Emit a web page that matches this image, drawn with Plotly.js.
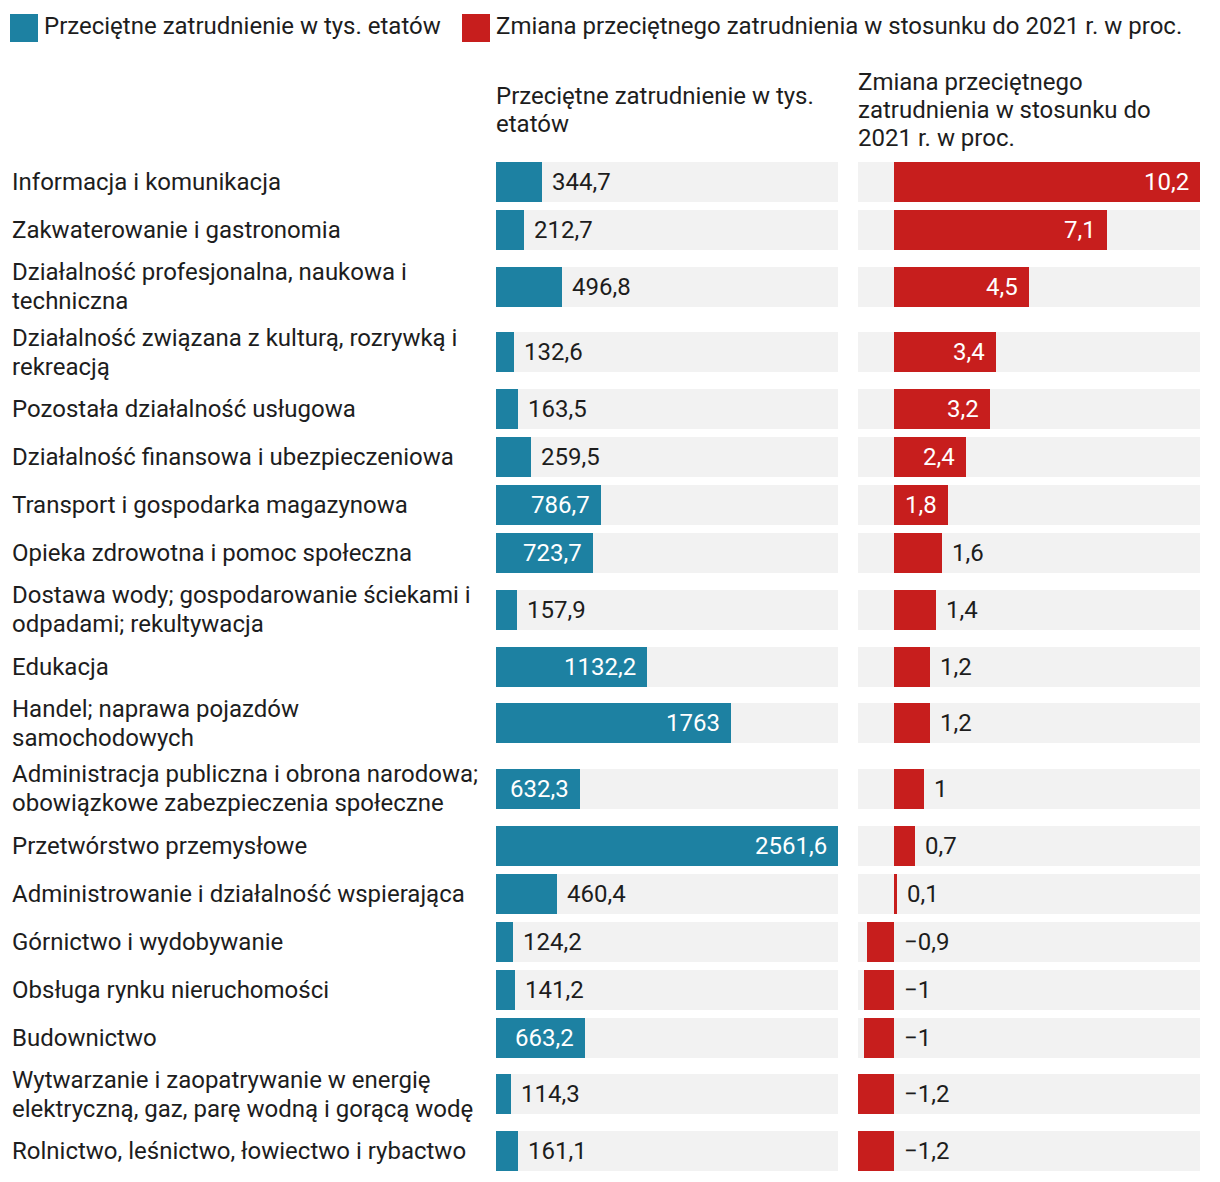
<!DOCTYPE html>
<html>
<head>
<meta charset="utf-8">
<script src="https://cdn.plot.ly/plotly-3.0.1.min.js"></script>
<style>html,body{margin:0;padding:0;background:#fff;}</style>
</head>
<body>
<div id="chart" style="width:1220px;height:1182px;"></div>
<script>
// ---- data ----
const categories = [
  'Informacja i komunikacja',
  'Zakwaterowanie i gastronomia',
  'Działalność profesjonalna, naukowa i<br>techniczna',
  'Działalność związana z kulturą, rozrywką i<br>rekreacją',
  'Pozostała działalność usługowa',
  'Działalność finansowa i ubezpieczeniowa',
  'Transport i gospodarka magazynowa',
  'Opieka zdrowotna i pomoc społeczna',
  'Dostawa wody; gospodarowanie ściekami i<br>odpadami; rekultywacja',
  'Edukacja',
  'Handel; naprawa pojazdów<br>samochodowych',
  'Administracja publiczna i obrona narodowa;<br>obowiązkowe zabezpieczenia społeczne',
  'Przetwórstwo przemysłowe',
  'Administrowanie i działalność wspierająca',
  'Górnictwo i wydobywanie',
  'Obsługa rynku nieruchomości',
  'Budownictwo',
  'Wytwarzanie i zaopatrywanie w energię<br>elektryczną, gaz, parę wodną i gorącą wodę',
  'Rolnictwo, leśnictwo, łowiectwo i rybactwo'
];
const employment = [344.7, 212.7, 496.8, 132.6, 163.5, 259.5, 786.7, 723.7, 157.9, 1132.2, 1763, 632.3, 2561.6, 460.4, 124.2, 141.2, 663.2, 114.3, 161.1];
const change = [10.2, 7.1, 4.5, 3.4, 3.2, 2.4, 1.8, 1.6, 1.4, 1.2, 1.2, 1, 0.7, 0.1, -0.9, -1, -1, -1.2, -1.2];
const seriesNames = ['Przeciętne zatrudnienie w tys. etatów', 'Zmiana przeciętnego zatrudnienia w stosunku do 2021 r. w proc.'];
const headerLabels = ['Przeciętne zatrudnienie w tys.<br>etatów', 'Zmiana przeciętnego<br>zatrudnienia w stosunku do<br>2021 r. w proc.'];

// ---- layout constants ----
const W = 1220, H = 1182;
const FONT = 'Roboto, sans-serif';
const FS = 24;
const TEXT = '#1d1d1d';
const BLUE = '#1d81a2', RED = '#c71e1d', GREY = '#f2f2f2';
const P1 = [496, 838], P2 = [858, 1200];
const TOP = 158, SLOT = 48, EXTRA = 17.5, BARW = 40;
const LH_LABEL = 29, LH_HEADER = 28;

// row centres from label line counts
const rowY = [];
let cur = TOP;
categories.forEach(c => {
  const lines = c.split('<br>').length;
  const h = SLOT + (lines - 1) * EXTRA;
  rowY.push(cur + h / 2);
  cur += h;
});

const maxE = Math.max(...employment);
const minC = Math.min(...change), maxC = Math.max(...change);

const fmt = v => (v < 0 ? '\u2212' : '') + String(Math.abs(v)).replace('.', ',');

const cv = document.createElement('canvas').getContext('2d');
cv.font = FS + 'px Roboto';
const tw = s => cv.measureText(s).width;

const px = x => x / W;
const py = y => 1 - y / H;

const annotations = [];
// multi-line text as one annotation per line, centred on the given y
function multiLine(text, base, lh) {
  const lines = text.split('<br>');
  lines.forEach((ln, j) => {
    annotations.push(Object.assign({}, base, {
      text: ln, yanchor: 'middle', showarrow: false,
      yshift: -(j - (lines.length - 1) / 2) * lh,
      font: {family: FONT, size: FS, color: TEXT}
    }));
  });
}
// category labels
categories.forEach((c, i) => {
  multiLine(c, {xref: 'paper', yref: 'y', x: px(10), y: rowY[i], xanchor: 'left', align: 'left'}, LH_LABEL);
});
// value labels
function valueLabels(vals, axis, lo, hi, pxRange) {
  const scale = (pxRange[1] - pxRange[0]) / (hi - lo);
  vals.forEach((v, i) => {
    const s = fmt(v);
    const barPx = Math.abs(v) * scale;
    const inside = barPx >= tw(s) + 20 && v > 0;
    annotations.push({xref: axis, yref: 'y', x: inside ? v : Math.max(v, 0), y: rowY[i],
      xanchor: inside ? 'right' : 'left', yanchor: 'middle', xshift: inside ? -9 : 8,
      text: s, showarrow: false, font: {family: FONT, size: FS, color: inside ? '#ffffff' : TEXT}});
  });
}
valueLabels(employment, 'x', 0, maxE, P1);
valueLabels(change, 'x2', minC, maxC, P2);

// headers
multiLine(headerLabels[0], {xref: 'paper', yref: 'paper', x: px(P1[0] - 2), y: py(110), xanchor: 'left', align: 'left'}, LH_HEADER);
multiLine(headerLabels[1], {xref: 'paper', yref: 'paper', x: px(P2[0] - 2), y: py(110), xanchor: 'left', align: 'left'}, LH_HEADER);

// legend
const shapes = [];
const legendItems = [{x: 10, color: BLUE, name: seriesNames[0]}, {x: 462, color: RED, name: seriesNames[1]}];
legendItems.forEach(it => {
  shapes.push({type: 'rect', xref: 'paper', yref: 'paper', x0: px(it.x), x1: px(it.x + 28), y0: py(14), y1: py(42),
    fillcolor: it.color, line: {width: 0}});
  annotations.push({xref: 'paper', yref: 'paper', x: px(it.x + 32), y: py(26), xanchor: 'left', yanchor: 'middle',
    text: it.name, showarrow: false, font: {family: FONT, size: FS, color: TEXT}});
});

const traces = [
  {type: 'bar', orientation: 'h', y: rowY, x: employment.map(() => maxE), width: BARW,
   marker: {color: GREY}, xaxis: 'x', yaxis: 'y', hoverinfo: 'skip', name: 'bg1'},
  {type: 'bar', orientation: 'h', y: rowY, x: employment, width: BARW,
   marker: {color: BLUE}, xaxis: 'x', yaxis: 'y', name: seriesNames[0]},
  {type: 'bar', orientation: 'h', y: rowY, base: change.map(() => minC), x: change.map(() => maxC - minC), width: BARW,
   marker: {color: GREY}, xaxis: 'x2', yaxis: 'y', hoverinfo: 'skip', name: 'bg2'},
  {type: 'bar', orientation: 'h', y: rowY, base: change.map(() => 0), x: change, width: BARW,
   marker: {color: RED}, xaxis: 'x2', yaxis: 'y', name: seriesNames[1]}
];

const layout = {
  width: W, height: H, autosize: false,
  margin: {l: 0, r: 0, t: 0, b: 0, pad: 0},
  paper_bgcolor: '#ffffff', plot_bgcolor: 'rgba(0,0,0,0)',
  showlegend: false, barmode: 'overlay', bargap: 0,
  font: {family: FONT, size: FS, color: TEXT},
  xaxis: {domain: [px(P1[0]), px(P1[1])], range: [0, maxE], visible: false, fixedrange: true, anchor: 'y'},
  xaxis2: {domain: [px(P2[0]), px(P2[1])], range: [minC, maxC], visible: false, fixedrange: true, anchor: 'y'},
  yaxis: {domain: [0, 1], range: [H, 0], visible: false, fixedrange: true},
  annotations: annotations,
  shapes: shapes
};

Plotly.newPlot('chart', traces, layout, {displayModeBar: false, staticPlot: true});
</script>
</body>
</html>
